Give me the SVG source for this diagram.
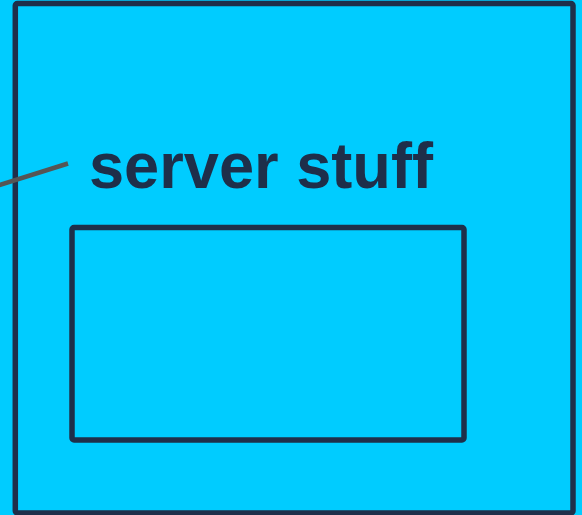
<svg xmlns="http://www.w3.org/2000/svg" width="582" height="515" viewBox="0 0 582 515">
<style>
.box{fill:#00ccff;stroke:#1e2f4a;stroke-width:5.5;stroke-linejoin:round}
.lbl{font-family:"Liberation Sans",Arial,sans-serif;font-weight:bold;fill:#1e2f4a}
</style>
<rect x="0" y="0" width="582" height="515" fill="#00ccff"/>
<g id="server">
<rect class="box" x="15.3" y="3.5" width="557.7" height="509.5" rx="2"/>
<text class="lbl" x="89" y="188" font-size="64" textLength="344" lengthAdjust="spacingAndGlyphs">server stuff</text>
</g>
<g id="inner">
<rect class="box" x="72" y="227.5" width="392" height="212.5" rx="2"/>
</g>
<g id="connectors">
<line x1="-2" y1="185.5" x2="68" y2="163.5" stroke="#555555" stroke-width="4.5"/>
</g>
</svg>
